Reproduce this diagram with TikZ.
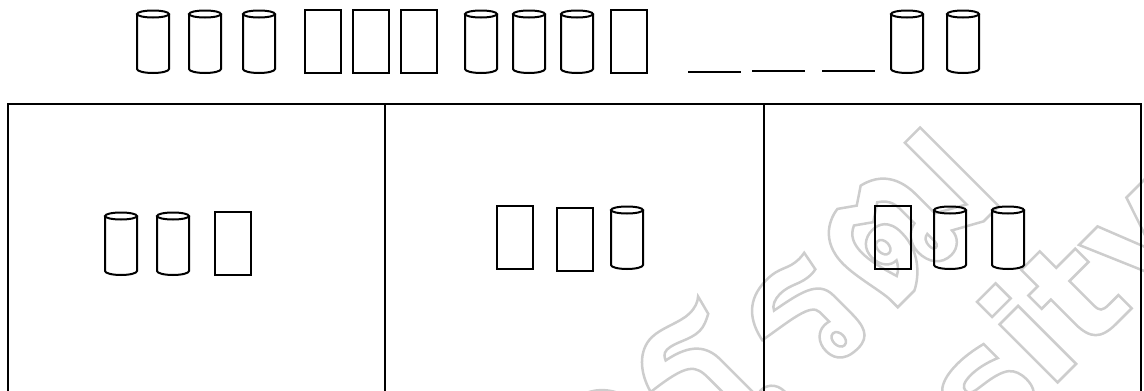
\documentclass[tikz,border=0pt]{standalone}
\usepackage{fontspec}
\setmainfont{DejaVu Sans}
\newfontfamily\thaifont[Script=Thai]{Loma}
\usetikzlibrary{positioning}
\definecolor{wmgray}{RGB}{205,205,205}

% hollow letters for the watermark
\newcommand{\outlinetext}[1]{\special{pdf:literal direct 1 Tr 2.5 w}#1\special{pdf:literal direct 0 Tr}}

% missing-glyph boxes: left x, top y
\newcommand{\cylglyph}[2]{%
    \draw[glyph] (#1,#2+4) -- (#1,#2+59) arc[start angle=180, end angle=0, x radius=16, y radius=4] -- (#1+32,#2+4);
    \draw[glyph] (#1+16,#2+4) ellipse[x radius=16, y radius=3.5];
}
\newcommand{\boxglyph}[2]{%
    \draw[glyph] (#1,#2) rectangle ++(36,63);
}

\begin{document}
\begin{tikzpicture}[x=1pt, y=-1pt,
    glyph/.style={black, line width=2pt},
    gridline/.style={black, line width=2pt},
    watermark/.style={text=wmgray, rotate=45, inner sep=0pt}]
    \useasboundingbox (0,0) rectangle (1144,391);

    % Watermark
    \begin{scope}
        \clip (0,0) rectangle (1144,391);
        \node[watermark, anchor=base east, font=\thaifont\bfseries\fontsize{200}{200}\selectfont] (wmthai) at (1010,195) {\outlinetext{มหาวิทยาลัยศรีนครินทรวิโรฒ}};
        \node[watermark, anchor=base east, font=\bfseries\fontsize{150}{150}\selectfont] (wmeng) at (1205,235) {\outlinetext{Srinakharinwirot University}};
    \end{scope}

    % Title row
    \foreach \x in {137,189,243,465,513,561,891,947} {
        \cylglyph{\x}{10}
    }
    \foreach \x in {305,353,401,611} {
        \boxglyph{\x}{10}
    }
    \foreach \a/\b/\y in {688/741/72, 752/805/71, 822/875/71} {
        \draw[glyph] (\a,\y) -- (\b,\y);
    }

    % Table
    \draw[gridline] (8,392) |- (1141,104) -- (1141,392);
    \draw[gridline] (385,104) -- (385,392);
    \draw[gridline] (764,104) -- (764,392);

    % Cell contents
    \cylglyph{105}{212}
    \cylglyph{157}{212}
    \boxglyph{215}{212}

    \boxglyph{497}{206}
    \boxglyph{557}{208}
    \cylglyph{611}{206}

    \boxglyph{875}{206}
    \cylglyph{934}{206}
    \cylglyph{992}{206}
\end{tikzpicture}
\end{document}
